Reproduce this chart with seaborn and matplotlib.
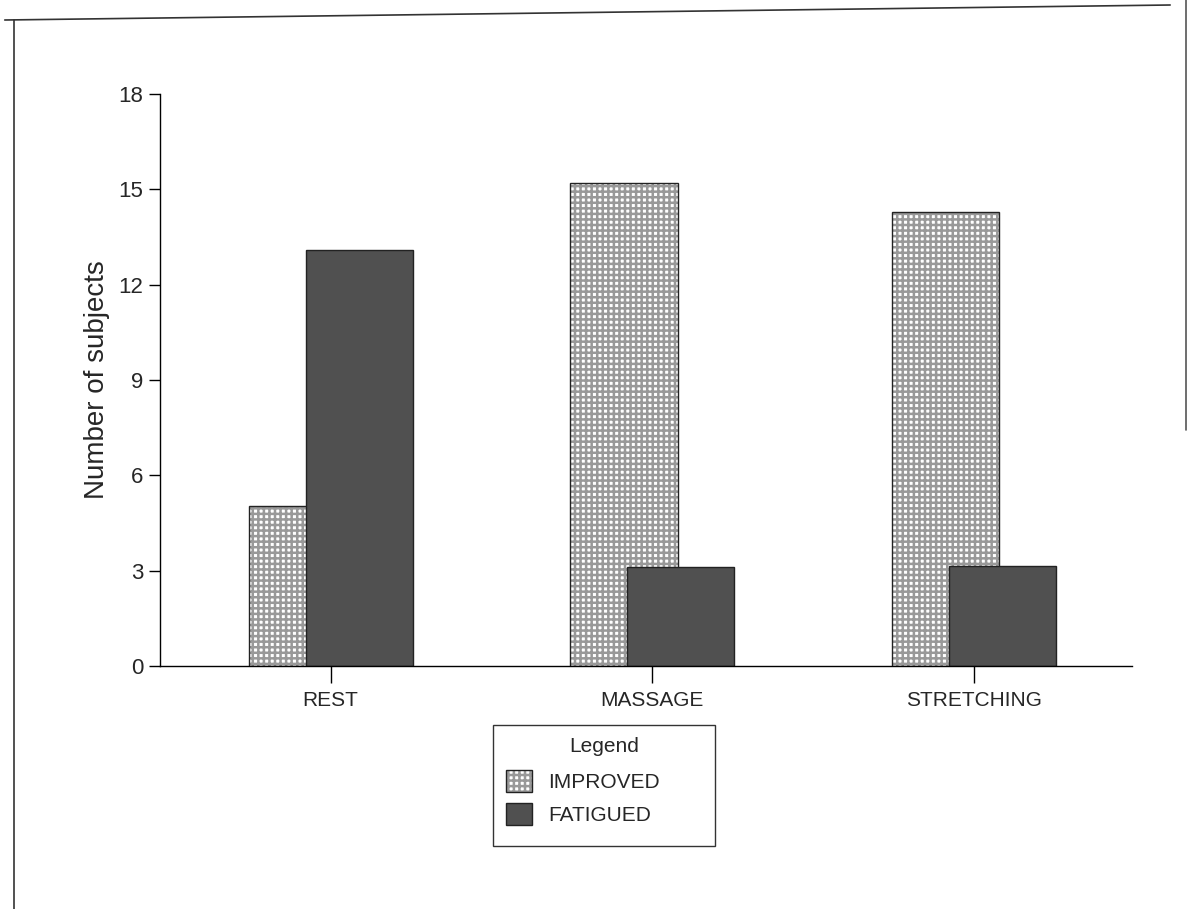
import pandas as pd
import matplotlib.pyplot as plt
import seaborn as sns
from matplotlib.lines import Line2D

categories = ['REST', 'MASSAGE', 'STRETCHING']
improved = [5.05, 15.2, 14.3]
fatigued = [13.1, 3.1, 3.15]
series = ['IMPROVED', 'FATIGUED']

df = pd.DataFrame({
    'group': categories * 2,
    'status': ['IMPROVED'] * 3 + ['FATIGUED'] * 3,
    'count': improved + fatigued,
})

sns.set_style('white')
plt.rcParams['font.family'] = ['Liberation Sans', 'DejaVu Sans']
plt.rcParams['hatch.linewidth'] = 1.8

fig = plt.figure(figsize=(11.88, 9.09), dpi=100)
ax = fig.add_axes([160 / 1188, 1 - 666 / 909, (1132 - 160) / 1188, (666 - 94) / 909])

# overlapping bars: negative gap widens each bar past its dodge slot
sns.barplot(data=df, x='group', y='count', hue='status', hue_order=series,
            palette=['#ffffff', '#505050'], width=0.354, gap=-0.88,
            edgecolor='#222222', linewidth=1, legend=False, ax=ax)

for bar in ax.containers[0]:
    bar.set_hatch('+++')
    bar._hatch_color = (0.6, 0.6, 0.6, 1.0)

ax.set_xlim(-0.53, 2.49)
ax.set_ylim(0, 18)
ax.set_yticks([0, 3, 6, 9, 12, 15, 18])
ax.set_xlabel('')
ax.set_ylabel('Number of subjects', fontsize=20, labelpad=6)
ax.tick_params(axis='y', direction='out', length=8, width=1, color='black', labelsize=16, left=True, pad=4)
ax.tick_params(axis='x', direction='out', length=12, width=1, color='black', labelsize=15, bottom=True, pad=6)
sns.despine(ax=ax, top=True, right=True)
for s in ['left', 'bottom']:
    ax.spines[s].set_color('black')
    ax.spines[s].set_linewidth(1)

leg = fig.legend(ax.containers, series, title='Legend', loc='upper left',
                 bbox_to_anchor=(493 / 1188, 1 - 848 / 909, 222 / 1188, 123 / 909),
                 mode='expand', fontsize=15, title_fontsize=15, frameon=True,
                 fancybox=False, edgecolor='black', handlelength=1.25,
                 handleheight=1.25, handletextpad=0.8, borderpad=0.6,
                 labelspacing=0.5, borderaxespad=0)
leg.get_frame().set_linewidth(1)
leg._legend_box.sep = 4
leg._legend_handle_box.pad = 6

# scanned page border
fig.add_artist(Line2D([0.004, 0.985], [1 - 20 / 909, 1 - 5 / 909], transform=fig.transFigure, color='#333333', lw=1.2))
fig.add_artist(Line2D([0.012, 0.012], [1 - 20 / 909, 0.0], transform=fig.transFigure, color='#333333', lw=1.2))
fig.add_artist(Line2D([0.998, 0.998], [1.0, 1 - 430 / 909], transform=fig.transFigure, color='#555555', lw=1.2))

plt.savefig('out.png', dpi=100)
